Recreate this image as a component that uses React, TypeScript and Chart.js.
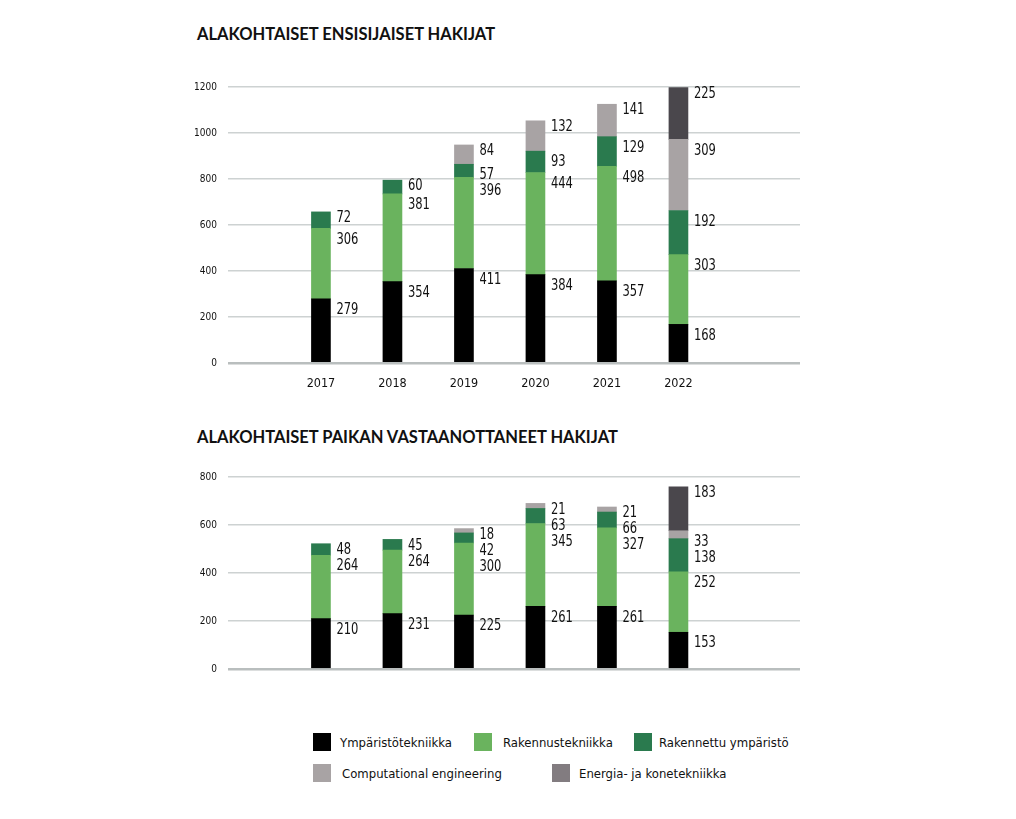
import React, { useEffect, useRef } from "react";
import { Chart, registerables } from "chart.js";

Chart.register(...registerables);

const years = [2017, 2018, 2019, 2020, 2021, 2022];

const seriesNames = [
  "Ympäristötekniikka",
  "Rakennustekniikka",
  "Rakennettu ympäristö",
  "Computational engineering",
  "Energia- ja konetekniikka",
];

// Top chart: Alakohtaiset ensisijaiset hakijat
const topYmparisto = [279, 354, 411, 384, 357, 168];
const topRakennus = [306, 381, 396, 444, 498, 303];
const topRakennettu = [72, 60, 57, 93, 129, 192];
const topComputational = [null, null, 84, 132, 141, 309];
const topEnergia = [null, null, null, null, null, 225];

// Bottom chart: Alakohtaiset paikan vastaanottaneet hakijat
const botYmparisto = [210, 231, 225, 261, 261, 153];
const botRakennus = [264, 264, 300, 345, 327, 252];
const botRakennettu = [48, 45, 42, 63, 66, 138];
const botComputational = [null, null, 18, 21, 21, 33];
const botEnergia = [null, null, null, null, null, 183];

const topTicks = [0, 200, 400, 600, 800, 1000, 1200];
const botTicks = [0, 200, 400, 600, 800];

const barColors = ["#000000", "#6ab35e", "#2a7a4e", "#a8a3a4", "#4a474c"];
const legendColors = ["#000000", "#6ab35e", "#2a7a4e", "#a8a3a4", "#827c80"];

const NARROW = '"DejaVu Sans Condensed", "Liberation Sans Narrow", sans-serif';

const labelPlugin = {
  id: "segLabels",
  afterDatasetsDraw(chart: any) {
    const ctx = chart.ctx;
    ctx.save();
    ctx.font = `16px ${NARROW}`;
    ctx.fillStyle = "#111";
    ctx.textAlign = "left";
    ctx.textBaseline = "middle";
    for (let j = 0; j < years.length; j++) {
      const segs: { top: number; x: number; text: string }[] = [];
      chart.data.datasets.forEach((ds: any, i: number) => {
        const v = ds.data[j]?.y;
        if (v === null || v === undefined) return;
        const el = chart.getDatasetMeta(i).data[j];
        if (!el) return;
        segs.push({ top: el.y, x: el.x + el.width / 2 + 6, text: String(v) });
      });
      segs.sort((a, b) => a.top - b.top);
      let prev = -Infinity;
      segs.forEach((s, k) => {
        const y = k === 0 ? s.top + 6 : Math.max(s.top + 11, prev + 16);
        prev = y;
        ctx.save();
        ctx.translate(s.x, y);
        ctx.scale(0.8, 1);
        ctx.fillText(s.text, 0, 0);
        ctx.restore();
      });
    }
    ctx.restore();
  },
};

function makeConfig(
  series: (number | null)[][],
  ticks: number[],
  showX: boolean,
  padTop: number,
  padBottom: number
): any {
  return {
    type: "bar",
    data: {
      datasets: series.map((arr, i) => ({
        label: seriesNames[i],
        data: years.map((yr, j) => ({ x: yr, y: arr[j] })),
        backgroundColor: barColors[i],
        borderWidth: 0,
        barThickness: 19,
        stack: "s",
      })),
    },
    plugins: [labelPlugin],
    options: {
      responsive: false,
      animation: false,
      devicePixelRatio: 1,
      layout: { padding: { top: padTop, right: 20, bottom: padBottom, left: 0 } },
      plugins: { legend: { display: false }, tooltip: { enabled: false } },
      scales: {
        x: {
          type: "linear",
          offset: false,
          min: years[0] - 1.3,
          max: years[years.length - 1] + 1.7,
          grid: { display: false, drawTicks: false },
          border: { display: false },
          afterBuildTicks: (scale: any) => {
            scale.ticks = years.map((v) => ({ value: v }));
          },
          afterFit: (scale: any) => {
            scale.height = showX ? 37 : 0;
          },
          ticks: {
            display: showX,
            padding: 13,
            autoSkip: false,
            maxRotation: 0,
            color: "#111",
            font: { family: NARROW, size: 12.5 },
            callback: (v: any) => String(v),
          },
        },
        y: {
          stacked: true,
          min: ticks[0],
          max: ticks[ticks.length - 1],
          afterBuildTicks: (scale: any) => {
            scale.ticks = ticks.map((v) => ({ value: v }));
          },
          afterFit: (scale: any) => {
            scale.width = 48;
          },
          border: { display: false },
          grid: {
            drawTicks: false,
            color: (c: any) => (c.tick && c.tick.value === 0 ? "#b9bebe" : "#cdd2d2"),
            lineWidth: (c: any) => (c.tick && c.tick.value === 0 ? 2.5 : 1.5),
          },
          ticks: {
            padding: 11,
            color: "#111",
            font: { family: NARROW, size: 10 },
            callback: (v: any) => String(v),
          },
        },
      },
    },
  };
}

function BarChart({ series, ticks, showX, width, height, padTop, padBottom, style }: any) {
  const ref = useRef<HTMLCanvasElement | null>(null);
  useEffect(() => {
    if (!ref.current) return;
    const chart = new Chart(ref.current, makeConfig(series, ticks, showX, padTop, padBottom));
    return () => chart.destroy();
  }, []);
  return <canvas ref={ref} width={width} height={height} style={{ position: "absolute", width, height, ...style }} />;
}

const titleStyle: React.CSSProperties = {
  position: "absolute",
  left: 189,
  fontFamily: "Lato, 'Open Sans', sans-serif",
  fontWeight: 700,
  fontSize: 16.5,
  color: "#111",
  whiteSpace: "nowrap",
  lineHeight: "18px",
};

function LegendItem({ color, text, left, top, gap }: any) {
  return (
    <div style={{ position: "absolute", left, top, display: "flex", alignItems: "center", whiteSpace: "nowrap" }}>
      <div style={{ width: 18, height: 18, background: color }} />
      <span style={{ marginLeft: gap, fontFamily: NARROW, fontSize: 13, color: "#111" }}>{text}</span>
    </div>
  );
}

export default function App() {
  return (
    <div style={{ position: "relative", width: 1000, height: 803, background: "#fff" }}>
      <div style={{ ...titleStyle, top: 17 }}>ALAKOHTAISET ENSISIJAISET HAKIJAT</div>
      <BarChart
        series={[topYmparisto, topRakennus, topRakennettu, topComputational, topEnergia]}
        ticks={topTicks}
        showX={true}
        width={640}
        height={330}
        padTop={14}
        padBottom={0}
        style={{ left: 172, top: 62 }}
      />
      <div style={{ ...titleStyle, top: 420 }}>ALAKOHTAISET PAIKAN VASTAANOTTANEET HAKIJAT</div>
      <BarChart
        series={[botYmparisto, botRakennus, botRakennettu, botComputational, botEnergia]}
        ticks={botTicks}
        showX={false}
        width={640}
        height={226}
        padTop={15}
        padBottom={10}
        style={{ left: 172, top: 452 }}
      />
      <LegendItem color={legendColors[0]} text={seriesNames[0]} left={305} top={725} gap={9} />
      <LegendItem color={legendColors[1]} text={seriesNames[1]} left={466} top={725} gap={11} />
      <LegendItem color={legendColors[2]} text={seriesNames[2]} left={626} top={725} gap={7} />
      <LegendItem color={legendColors[3]} text={seriesNames[3]} left={305} top={756} gap={11} />
      <LegendItem color={legendColors[4]} text={seriesNames[4]} left={544} top={756} gap={9} />
    </div>
  );
}
